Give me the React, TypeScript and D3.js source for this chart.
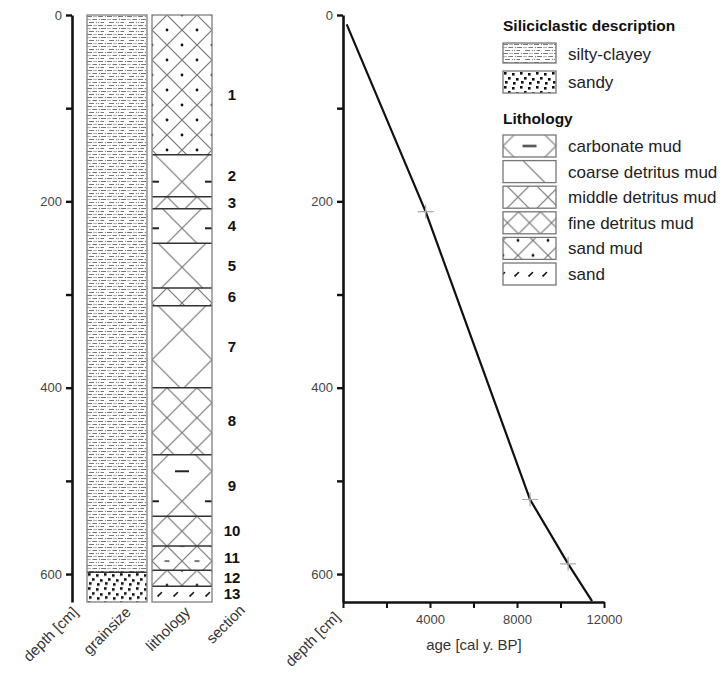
import React, { useEffect, useRef } from "react";
import * as d3 from "d3";

// core description
const depthBounds = [0, 150, 195, 208, 245, 293, 312, 400, 472, 538, 570, 596, 613, 630];
const lithoTypes = ["sandMud", "carbonate", "fine", "carbonate", "middle", "fine", "middle", "fine", "carbonate", "fine", "fineCarb", "sandMud", "sand"];
const sectionLabels = ["1", "2", "3", "4", "5", "6", "7", "8", "9", "10", "11", "12", "13"];
const grainBounds = [0, 598, 630];
const grainTypes = ["silty", "sandy"];

// age-depth model
const ageKnots = [170, 3800, 8600, 10350, 11450];
const depthKnots = [10, 211, 520, 589, 629];
const markerAges = [3800, 8600, 10350];
const markerDepths = [211, 520, 589];

const depthTicks = [0, 100, 200, 300, 400, 500, 600];
const depthLabels = [0, 200, 400, 600];
const ageTicks = [0, 2000, 4000, 6000, 8000, 10000, 12000];
const ageLabels = [4000, 8000, 12000];

const siliTypes = ["silty", "sandy"];
const siliLabels = ["silty-clayey", "sandy"];
const lithoLegendTypes = ["carbonate", "coarse", "middle", "fine", "sandMud", "sand"];
const lithoLegendLabels = ["carbonate mud", "coarse detritus mud", "middle detritus mud", "fine detritus mud", "sand mud", "sand"];
const bottomLabels = ["depth [cm]", "grainsize", "lithology", "section"];

const FONT = "'Liberation Sans', Arial, sans-serif";

function makePattern(defs, id, type, W, ox, oy, H) {
  const h = H || W;
  const p = defs.append("pattern")
    .attr("id", id)
    .attr("patternUnits", "userSpaceOnUse")
    .attr("x", ox).attr("y", oy)
    .attr("width", W).attr("height", h);
  p.append("rect").attr("width", W).attr("height", h).attr("fill", "#fff");

  if (type === "silty") {
    const dash = (x1, x2, y) => p.append("line").attr("x1", x1).attr("x2", x2).attr("y1", y).attr("y2", y)
      .attr("stroke", "#777").attr("stroke-width", 1);
    const dot = (x, y) => p.append("rect").attr("x", x - 0.6).attr("y", y - 0.6).attr("width", 1.2).attr("height", 1.2).attr("fill", "#888");
    dash(0, 5, 1.5); dot(7, 1.5); dot(9, 1.5); dash(11, 16, 1.5); dot(18.5, 1.5);
    dot(1, 4.5); dot(3, 4.5); dash(5.5, 10, 4.5); dot(12.5, 4.5); dash(14, 19, 4.5);
    dash(2, 7, 7.5); dot(9.5, 7.5); dot(11.5, 7.5); dash(13.5, 17, 7.5);
    return;
  }
  if (type === "sandy") {
    [[1, 1], [9, 2], [5, 6], [13, 7], [2, 10], [10, 11]].forEach(([x, y]) =>
      p.append("rect").attr("x", x).attr("y", y).attr("width", 2.6).attr("height", 2.6).attr("fill", "#111"));
    return;
  }
  if (type === "sand") {
    const c = W / 2, m = h / 2;
    p.append("path").attr("d", `M${c - 1.5},${m + 1.5}L${c + 1.5},${m - 1.5}`)
      .attr("stroke", "#111").attr("stroke-width", 1.6).attr("stroke-linecap", "round");
    p.append("circle").attr("cx", c - 1.8).attr("cy", m + 1.8).attr("r", 1).attr("fill", "#111");
    return;
  }
  const line = type === "coarse" ? `M0,0L${W},${W}` : `M0,0L${W},${W}M${W},0L0,${W}`;
  p.append("path").attr("d", line).attr("stroke", "#777").attr("stroke-width", 1.2).attr("fill", "none");
  const centers = [[W / 2, 0], [W / 2, W], [0, W / 2], [W, W / 2]];
  if (type === "sandMud") {
    centers.forEach(([x, y]) => p.append("circle").attr("cx", x).attr("cy", y).attr("r", 1.4).attr("fill", "#111"));
  }
  if (type === "carbonate" || type === "fineCarb") {
    const len = type === "carbonate" ? 7 : 2.5;
    centers.forEach(([x, y]) => p.append("line").attr("x1", x - len).attr("x2", x + len).attr("y1", y).attr("y2", y)
      .attr("stroke", "#222").attr("stroke-width", type === "carbonate" ? 2 : 1.2));
  }
}

const colSize = { sandMud: 30, fine: 30, fineCarb: 30, middle: 60, carbonate: 60, coarse: 60, sand: 16 };

const App = () => {
  const ref = useRef();

  useEffect(() => {
    const width = 728, height = 680;
    const svg = d3.select(ref.current)
      .attr("width", width)
      .attr("height", height)
      .style("font-family", FONT);
    svg.selectAll("*").remove();
    const defs = svg.append("defs");

    const y = d3.scaleLinear().domain([0, 630]).range([15, 602]);
    const x = d3.scaleLinear().domain([0, 12000]).range([343, 604]);

    const grainX = 87, lithoX = 152, colW = 60;

    // grainsize column
    grainTypes.forEach((t, i) => {
      const top = y(grainBounds[i]), h = y(grainBounds[i + 1]) - top;
      makePattern(defs, `grain-${i}`, t, t === "silty" ? 20 : 16, 0, 0, t === "silty" ? 9 : 14);
      const g = svg.append("g").attr("transform", `translate(${grainX},${top})`);
      g.append("rect").attr("width", colW).attr("height", h).attr("fill", `url(#grain-${i})`);
    });
    svg.append("line").attr("x1", grainX).attr("x2", grainX + colW)
      .attr("y1", y(grainBounds[1])).attr("y2", y(grainBounds[1]))
      .attr("stroke", "#333").attr("stroke-width", 1.5);
    svg.append("rect").attr("x", grainX).attr("y", y(0)).attr("width", colW).attr("height", y(630) - y(0))
      .attr("fill", "none").attr("stroke", "#888").attr("stroke-width", 1.4);

    // lithology column
    lithoTypes.forEach((t, i) => {
      const top = y(depthBounds[i]), h = y(depthBounds[i + 1]) - top;
      const W = colSize[t];
      if (t === "sand") makePattern(defs, `lith-${i}`, t, W, 0, 0, h);
      else if (t === "carbonate") makePattern(defs, `lith-${i}`, t, W, colW / 2 - W / 2, h - 15 - W / 2);
      else if (t === "middle") makePattern(defs, `lith-${i}`, t, W, colW / 2 - W / 2, 24 - W / 2);
      else makePattern(defs, `lith-${i}`, t, W, colW / 2 - W / 2, 0);
      const g = svg.append("g").attr("transform", `translate(${lithoX},${top})`);
      g.append("rect").attr("width", colW).attr("height", h).attr("fill", `url(#lith-${i})`);
    });
    svg.append("g").selectAll("line")
      .data(depthBounds.slice(1, -1))
      .join("line")
      .attr("x1", lithoX).attr("x2", lithoX + colW)
      .attr("y1", d => y(d)).attr("y2", d => y(d))
      .attr("stroke", "#333").attr("stroke-width", 1.5);
    svg.append("rect").attr("x", lithoX).attr("y", y(0)).attr("width", colW).attr("height", y(630) - y(0))
      .attr("fill", "none").attr("stroke", "#888").attr("stroke-width", 1.4);

    // section numbers
    svg.append("g").selectAll("text")
      .data(sectionLabels)
      .join("text")
      .attr("x", 232)
      .attr("y", (d, i) => y((depthBounds[i] + depthBounds[i + 1]) / 2) + (i === 0 ? 10 : 0))
      .attr("dy", "0.35em")
      .attr("text-anchor", "middle")
      .attr("font-size", 15).attr("font-weight", "bold").attr("fill", "#111")
      .text(d => d);

    // depth axes
    const depthAxis = d3.axisLeft(y).tickValues(depthTicks).tickSize(6).tickSizeOuter(0)
      .tickFormat(d => depthLabels.includes(d) ? d : "");
    [72, 343].forEach(ax => {
      const g = svg.append("g").attr("transform", `translate(${ax},0)`).call(depthAxis);
      g.select(".domain").attr("stroke", "#111").attr("stroke-width", 2.6);
      g.selectAll(".tick line").attr("stroke", "#111").attr("stroke-width", 2.4);
      g.selectAll(".tick text").attr("font-family", FONT).attr("font-size", 13).attr("fill", "#444").attr("x", -10);
    });

    // age axis
    const ageAxis = d3.axisBottom(x).tickValues(ageTicks).tickSize(6).tickSizeOuter(0)
      .tickFormat(d => ageLabels.includes(d) ? d : "");
    const gx = svg.append("g").attr("transform", `translate(0,${y(630)})`).call(ageAxis);
    gx.select(".domain").attr("stroke", "#111").attr("stroke-width", 2.6);
    gx.selectAll(".tick line").attr("stroke", "#111").attr("stroke-width", 2);
    gx.selectAll(".tick text").attr("font-family", FONT).attr("font-size", 13).attr("fill", "#444").attr("y", 13);

    svg.append("text").attr("x", 474).attr("y", 650).attr("text-anchor", "middle")
      .attr("font-size", 15).attr("fill", "#333").text("age [cal y. BP]");

    // age-depth curve
    const pts = ageKnots.map((a, i) => [a, depthKnots[i]]);
    svg.append("path")
      .attr("d", d3.line().x(d => x(d[0])).y(d => y(d[1]))(pts))
      .attr("fill", "none").attr("stroke", "#111").attr("stroke-width", 2.2);
    const mk = svg.append("g").selectAll("g")
      .data(markerAges.map((a, i) => [a, markerDepths[i]]))
      .join("g")
      .attr("transform", d => `translate(${x(d[0])},${y(d[1])})`);
    mk.append("path").attr("d", "M-8,0H8M0,-7V7").attr("stroke", "#aaa").attr("stroke-width", 1.2);

    // rotated column labels
    const bl = [[79, 613], [132, 613], [191, 613], [246, 611]];
    svg.append("g").selectAll("text")
      .data(bottomLabels)
      .join("text")
      .attr("transform", (d, i) => `translate(${bl[i][0]},${bl[i][1]}) rotate(-45)`)
      .attr("text-anchor", "end")
      .attr("font-size", 15).attr("fill", "#333")
      .text(d => d);
    svg.append("text")
      .attr("transform", "translate(341,618) rotate(-45)")
      .attr("text-anchor", "end")
      .attr("font-size", 15).attr("fill", "#333")
      .text("depth [cm]");

    // legend
    const lx = 503, bw = 53, bh = 22, tx = 568;
    const lg = svg.append("g");
    lg.append("text").attr("x", lx).attr("y", 31).attr("font-size", 15.5).attr("font-weight", "bold").attr("fill", "#111")
      .text("Siliciclastic description");
    siliTypes.forEach((t, i) => {
      const top = 43 + i * 28;
      makePattern(defs, `leg-s-${i}`, t, t === "silty" ? 20 : 16, 0, 0, t === "silty" ? 9 : 14);
      const g = lg.append("g").attr("transform", `translate(${lx},${top})`);
      g.append("rect").attr("width", bw).attr("height", i === 0 ? 20 : bh).attr("fill", `url(#leg-s-${i})`)
        .attr("stroke", "#777").attr("stroke-width", 1.3);
      g.append("text").attr("x", tx - lx).attr("y", 11).attr("dy", "0.35em")
        .attr("font-size", 17).attr("fill", "#222").text(siliLabels[i]);
    });
    lg.append("text").attr("x", lx).attr("y", 124).attr("font-size", 15.5).attr("font-weight", "bold").attr("fill", "#111")
      .text("Lithology");
    const legOpts = {
      carbonate: [53, -26.5, 11 - 26.5],
      coarse: [44, 20, 0],
      middle: [30, 0, -4],
      fine: [22, 15.5, 0],
      sandMud: [30, 15, -12],
      sand: [14, 7, 0],
    };
    lithoLegendTypes.forEach((t, i) => {
      const top = 135 + i * 25.6;
      const [W, ox, oy] = legOpts[t];
      makePattern(defs, `leg-l-${i}`, t, W, ox, oy, t === "sand" ? bh : undefined);
      const g = lg.append("g").attr("transform", `translate(${lx},${top})`);
      g.append("rect").attr("width", bw).attr("height", bh).attr("fill", `url(#leg-l-${i})`)
        .attr("stroke", "#777").attr("stroke-width", 1.3);
      g.append("text").attr("x", tx - lx).attr("y", 11).attr("dy", "0.35em")
        .attr("font-size", 17).attr("fill", "#222").text(lithoLegendLabels[i]);
    });
  }, []);

  return <svg ref={ref} style={{ position: "absolute", left: 0, top: 0 }}></svg>;
};

export default App;
